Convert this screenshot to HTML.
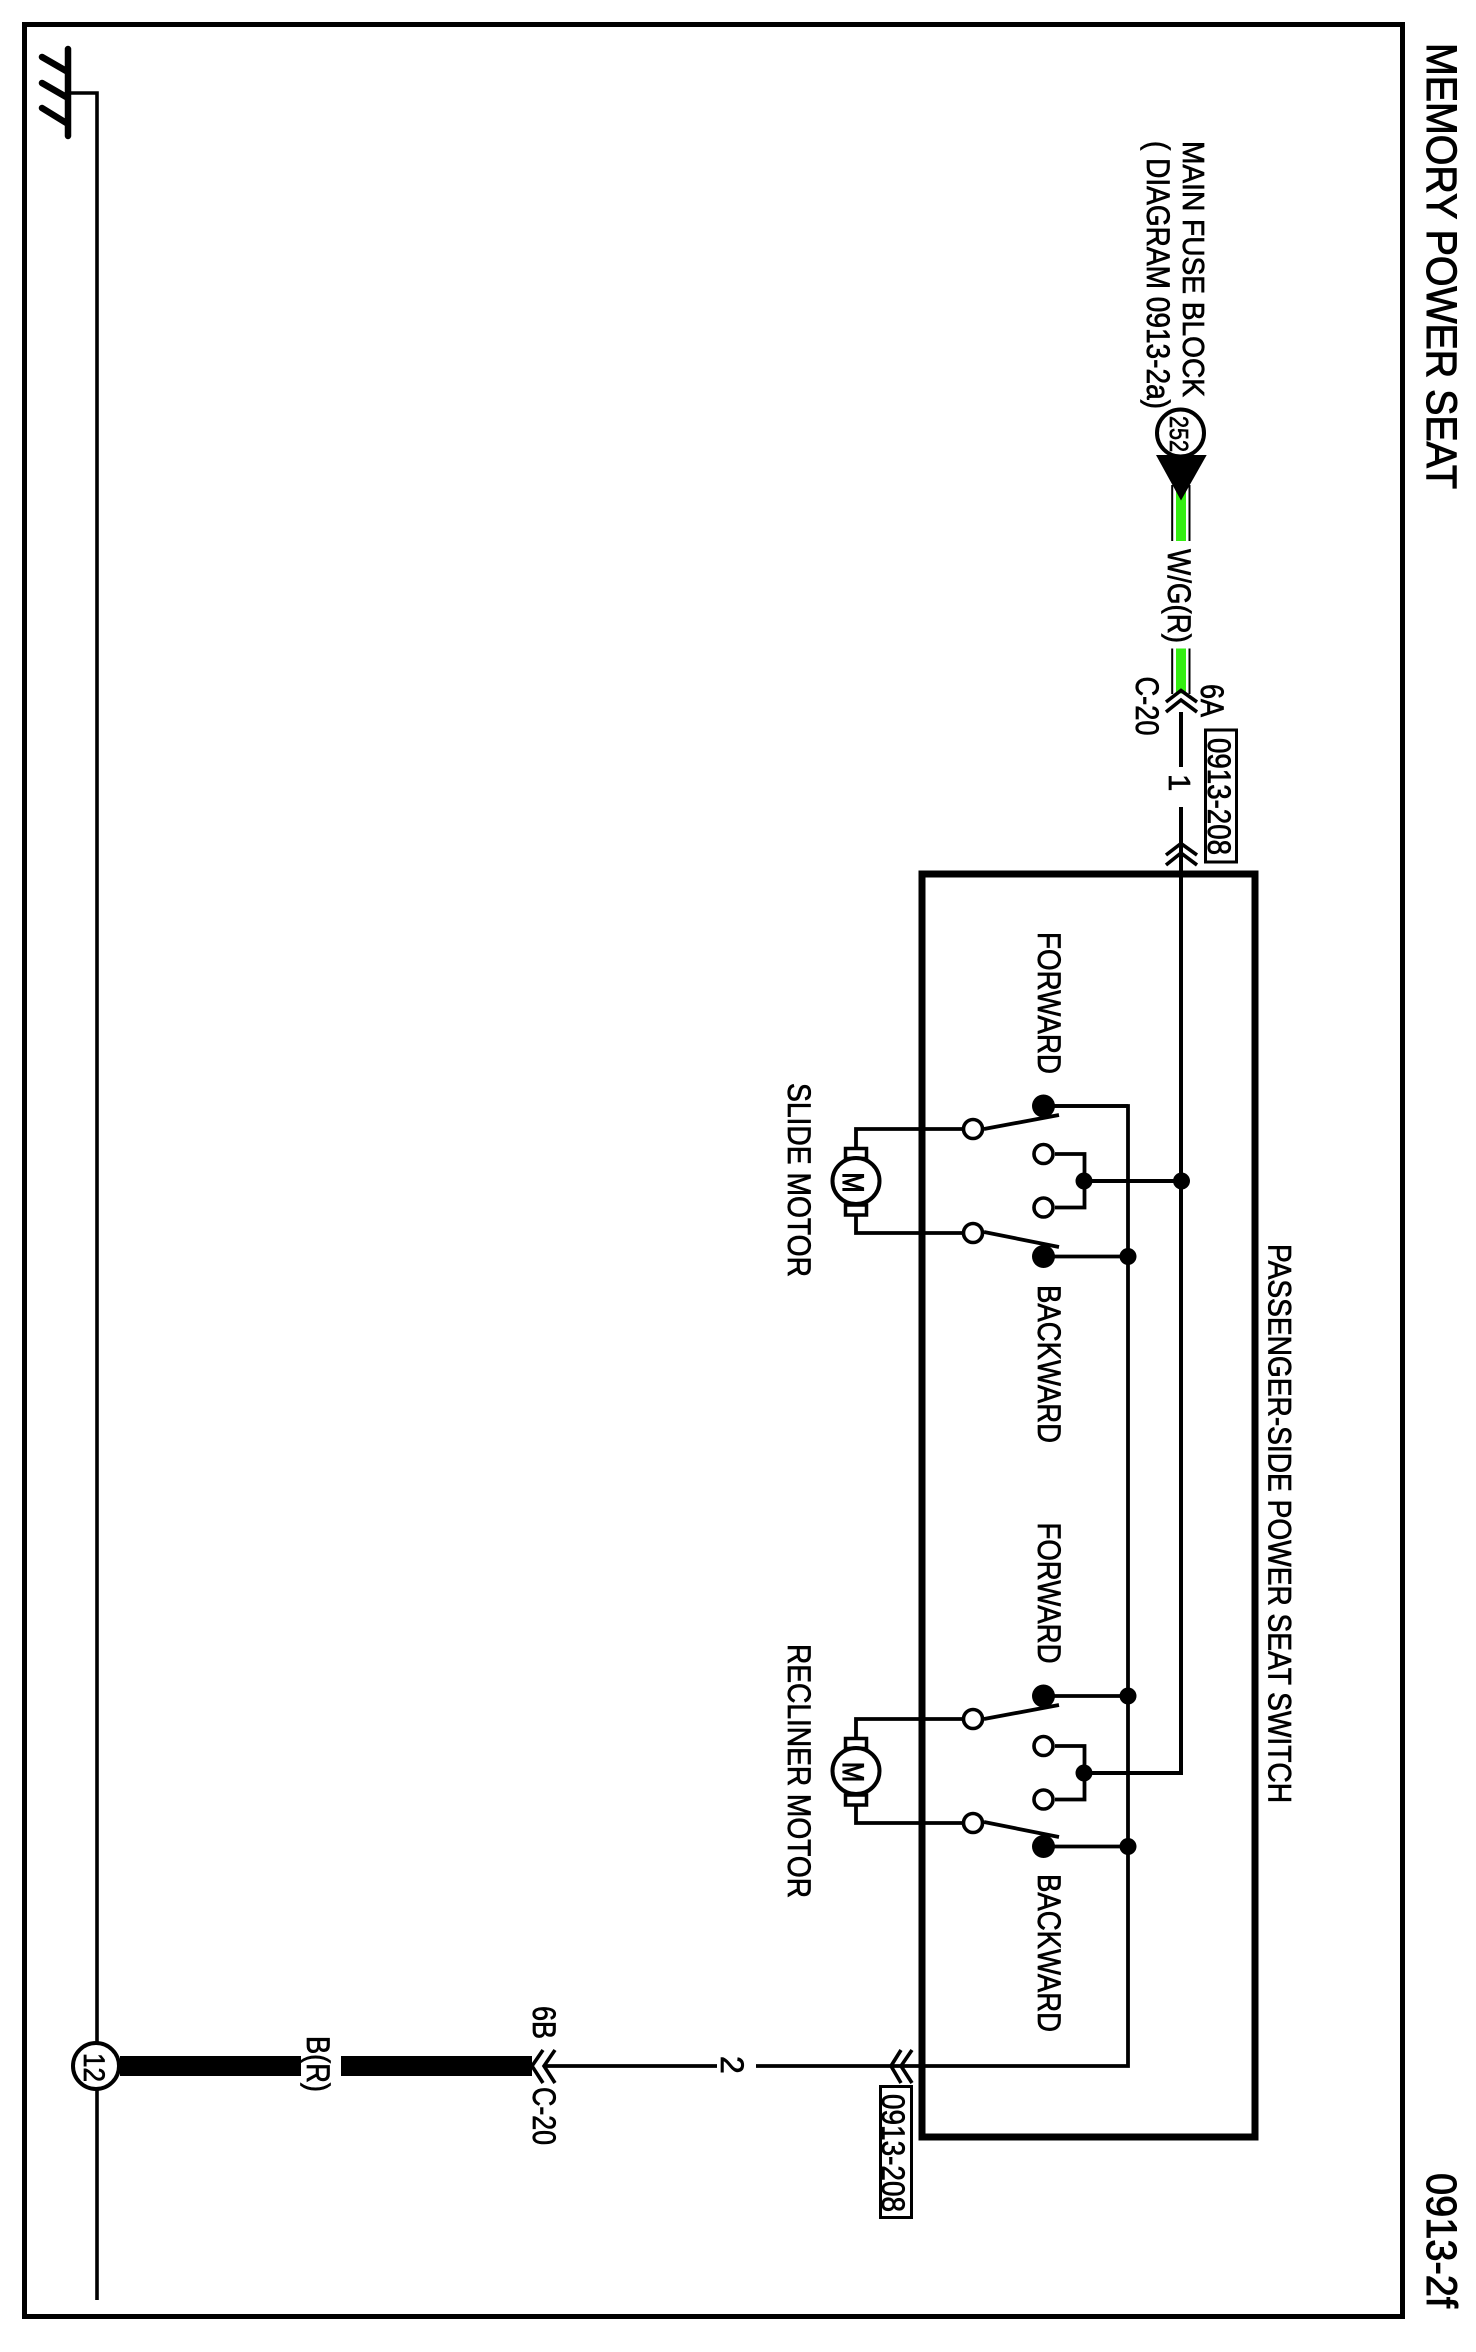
<!DOCTYPE html>
<html><head><meta charset="utf-8"><title>Memory Power Seat</title>
<style>html,body{margin:0;padding:0;background:#fff;width:1476px;height:2352px;overflow:hidden}svg{display:block}
text{font-family:"Liberation Sans",sans-serif;fill:#000;font-size:32px;stroke:#000;stroke-width:.7px}</style></head>
<body>
<svg xmlns="http://www.w3.org/2000/svg" width="1476" height="2352" viewBox="0 0 1476 2352">
<defs>
<g id="sw">
  <path d="M973 1129H856V1147M856 1216V1233H973" fill="none" stroke="#000" stroke-width="3.8"/>
  <rect x="845.5" y="1148.5" width="21" height="10" fill="#fff" stroke="#000" stroke-width="3.5"/>
  <rect x="845.5" y="1205" width="21" height="10" fill="#fff" stroke="#000" stroke-width="3.5"/>
  <ellipse cx="856" cy="1181" rx="23.5" ry="23" fill="#fff" stroke="#000" stroke-width="4"/>
  <path d="M1043.5 1106H1128M1043.5 1256.5H1128" fill="none" stroke="#000" stroke-width="3.8"/>
  <path d="M984 1129L1059 1115M984 1232L1059 1247" stroke="#000" stroke-width="3.8" fill="none"/>
  <circle cx="1043.5" cy="1106" r="11.5"/>
  <circle cx="1043.5" cy="1256.5" r="11.5"/>
  <circle cx="973" cy="1129" r="9.5" fill="#fff" stroke="#000" stroke-width="3.6"/>
  <circle cx="973" cy="1233" r="9.5" fill="#fff" stroke="#000" stroke-width="3.6"/>
  <circle cx="1128" cy="1256.5" r="8.5"/>
</g>
<g id="mid">
  <path d="M1055 1154H1084.5V1207.5H1055" fill="none" stroke="#000" stroke-width="3.8"/>
  <circle cx="1043.5" cy="1154" r="9.5" fill="#fff" stroke="#000" stroke-width="3.6"/>
  <circle cx="1043.5" cy="1207.5" r="9.5" fill="#fff" stroke="#000" stroke-width="3.6"/>
  <circle cx="1084" cy="1181" r="8.5"/>
</g>
</defs>
<rect width="1476" height="2352" fill="#fff"/>

<!-- outer frame -->
<rect x="24.500" y="24.500" width="1378" height="2292" fill="none" stroke="#000" stroke-width="5"/>

<!-- ground -->
<path d="M68 49V136M42 57L68 72M42 83L68 98M42 108L68 124" fill="none" stroke="#000" stroke-width="6.500" stroke-linecap="round"/>
<path d="M68 93H97V2300" fill="none" stroke="#000" stroke-width="3.600"/>

<!-- switch box -->
<rect x="922" y="874" width="333" height="1263" fill="none" stroke="#000" stroke-width="7"/>

<!-- main wires -->
<path d="M1181 712V767M1181 807V1773H1084M1084 1181H1181" fill="none" stroke="#000" stroke-width="4"/>
<path d="M1043.500 1106H1128V2066H756M717 2066H546" fill="none" stroke="#000" stroke-width="3.800"/>

<!-- switches -->
<use href="#sw"/>
<use href="#sw" y="590"/>
<use href="#mid"/>
<use href="#mid" y="592"/>
<circle cx="1181.500" cy="1181" r="8.500"/>
<circle cx="1128" cy="1696" r="8.500"/>

<!-- green wire -->
<rect x="1176" y="485" width="10" height="56" fill="#33ee11"/>
<rect x="1176" y="648.500" width="10" height="45" fill="#33ee11"/>
<path d="M1172.200 485V541M1189.500 485V541M1172.200 648.500V694M1189.500 648.500V694" stroke="#000" stroke-width="2" fill="none"/>

<!-- fuse terminal -->
<circle cx="1180.500" cy="433" r="23.500" fill="#fff" stroke="#000" stroke-width="4"/>
<polygon points="1156,455 1206.700,455 1181,500.500" fill="#000"/>

<!-- thick black wire -->
<rect x="120" y="2056" width="181" height="20"/>
<rect x="341" y="2056" width="191" height="20"/>
<circle cx="96" cy="2066" r="23" fill="#fff" stroke="#000" stroke-width="4"/>

<!-- connector chevrons -->
<g fill="none" stroke="#000" stroke-width="3.600">
<path d="M1166 702L1181 690.500L1197 702M1166 712L1181 700L1197 712"/>
<path d="M1166 855L1181 843.500L1197 855M1166 865L1181 853L1197 865"/>
<path d="M543 2050L532 2066L543 2083M555 2050L544 2066L555 2083"/>
<path d="M901 2050L891 2066L901 2083M912 2050L901 2066L912 2083"/>
</g>

<!-- reference boxes -->
<rect x="1205.500" y="730" width="31" height="132" fill="#fff" stroke="#000" stroke-width="3"/>
<rect x="880.500" y="2086.500" width="31" height="131" fill="#fff" stroke="#000" stroke-width="3"/>

<!-- labels -->
<text transform="translate(1427,43) rotate(90)" textLength="446" lengthAdjust="spacingAndGlyphs" style="font-size:43px;stroke-width:1px">MEMORY POWER SEAT</text>
<text transform="translate(1427,2173) rotate(90)" textLength="135" lengthAdjust="spacingAndGlyphs" style="font-size:43px;stroke-width:1px">0913-2f</text>
<text transform="translate(1183,141) rotate(90)" textLength="256" lengthAdjust="spacingAndGlyphs" style="font-size:31px">MAIN FUSE BLOCK</text>
<text transform="translate(1147,141) rotate(90)" textLength="268" lengthAdjust="spacingAndGlyphs">( DIAGRAM 0913-2a)</text>
<text transform="translate(1170,416) rotate(90)" textLength="36" lengthAdjust="spacingAndGlyphs" style="font-size:26px">252</text>
<text transform="translate(1168,549) rotate(90)" textLength="94" lengthAdjust="spacingAndGlyphs">W/G(R)</text>
<text transform="translate(1201,684) rotate(90)" textLength="33" lengthAdjust="spacingAndGlyphs">6A</text>
<text transform="translate(1136,676.500) rotate(90)" textLength="59" lengthAdjust="spacingAndGlyphs">C-20</text>
<text transform="translate(1169,774) rotate(90)" style="font-size:31px">1</text>
<text transform="translate(1208,738) rotate(90)" textLength="117" lengthAdjust="spacingAndGlyphs">0913-208</text>
<text transform="translate(882,2094) rotate(90)" textLength="118" lengthAdjust="spacingAndGlyphs">0913-208</text>
<text transform="translate(721,2056) rotate(90)">2</text>
<text transform="translate(533,2006) rotate(90)" textLength="33" lengthAdjust="spacingAndGlyphs">6B</text>
<text transform="translate(533,2087) rotate(90)" textLength="58" lengthAdjust="spacingAndGlyphs">C-20</text>
<text transform="translate(307,2036) rotate(90)" textLength="56" lengthAdjust="spacingAndGlyphs">B(R)</text>
<text transform="translate(84,2053) rotate(90)" textLength="29" lengthAdjust="spacingAndGlyphs" style="font-size:30px">12</text>
<text transform="translate(843,1172.500) rotate(90)" textLength="20" lengthAdjust="spacingAndGlyphs" style="font-size:30px;stroke-width:1.2px">M</text>
<text transform="translate(843,1762) rotate(90)" textLength="20" lengthAdjust="spacingAndGlyphs" style="font-size:30px;stroke-width:1.2px">M</text>
<text transform="translate(1038,932) rotate(90)" textLength="142" lengthAdjust="spacingAndGlyphs">FORWARD</text>
<text transform="translate(1038,1285) rotate(90)" textLength="158" lengthAdjust="spacingAndGlyphs">BACKWARD</text>
<text transform="translate(1038,1522.500) rotate(90)" textLength="141" lengthAdjust="spacingAndGlyphs">FORWARD</text>
<text transform="translate(1038,1874) rotate(90)" textLength="158" lengthAdjust="spacingAndGlyphs">BACKWARD</text>
<text transform="translate(788,1083) rotate(90)" textLength="194" lengthAdjust="spacingAndGlyphs">SLIDE MOTOR</text>
<text transform="translate(788,1644) rotate(90)" textLength="254" lengthAdjust="spacingAndGlyphs">RECLINER MOTOR</text>
<text transform="translate(1268.500,1244) rotate(90)" textLength="559" lengthAdjust="spacingAndGlyphs">PASSENGER-SIDE POWER SEAT SWITCH</text>
</svg>
</body></html>
